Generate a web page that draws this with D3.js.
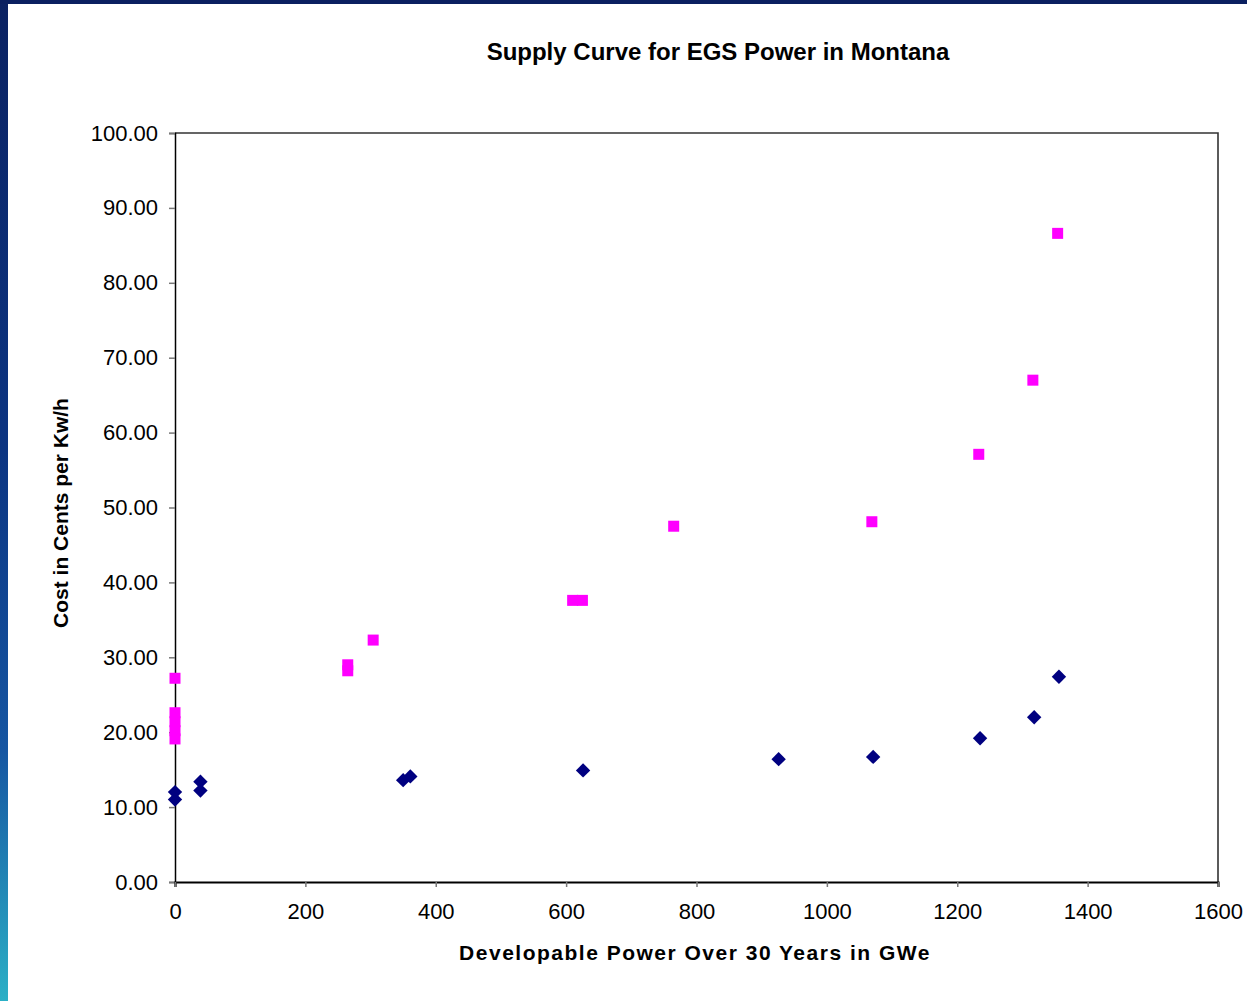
<!DOCTYPE html>
<html>
<head>
<meta charset="utf-8">
<script src="https://cdn.jsdelivr.net/npm/d3@7"></script>
<style>
  html, body { margin: 0; padding: 0; background: #fff; }
  svg { display: block; }
</style>
</head>
<body>
<svg id="chart" width="1247" height="1001"></svg>
<script>
// Supply curve data: developable power (GWe) vs. cost (cents per kWh)
const highCostPower = [0, 0, 0, 0, 0, 265, 265, 304, 610, 625, 765, 1069, 1233, 1316, 1354];
const highCostCents = [27.2, 22.6, 21.4, 20.2, 19.1, 29.0, 28.2, 32.3, 37.6, 37.6, 47.5, 48.1, 57.1, 67.0, 86.6];

const lowCostPower = [0, 0, 39, 39, 350, 361, 626, 926, 1071, 1235, 1318, 1356];
const lowCostCents = [12.0, 11.0, 13.4, 12.2, 13.6, 14.1, 14.9, 16.4, 16.7, 19.2, 22.0, 27.4];

const xTicks = [0, 200, 400, 600, 800, 1000, 1200, 1400, 1600];
const yTicks = [0, 10, 20, 30, 40, 50, 60, 70, 80, 90, 100];

const titleText = "Supply Curve for EGS Power in Montana";
const xLabel = "Developable Power Over 30 Years in GWe";
const yLabel = "Cost in Cents per Kw/h";

const svg = d3.select("#chart");
const W = 1247, H = 1001;
const plot = { left: 175, right: 1218, top: 133, bottom: 882 };

// Slide frame: gradient strip on the left, dark band along the top
const defs = svg.append("defs");
const grad = defs.append("linearGradient")
  .attr("id", "frameGrad").attr("x1", 0).attr("y1", 0).attr("x2", 0).attr("y2", 1);
grad.append("stop").attr("offset", "0%").attr("stop-color", "#0b2262");
grad.append("stop").attr("offset", "45%").attr("stop-color", "#0c3582");
grad.append("stop").attr("offset", "75%").attr("stop-color", "#1656a2");
grad.append("stop").attr("offset", "100%").attr("stop-color", "#2bb0c6");

svg.append("rect").attr("x", 0).attr("y", 0).attr("width", W).attr("height", H).attr("fill", "#fff");
svg.append("rect").attr("x", 0).attr("y", 0).attr("width", 8).attr("height", H).attr("fill", "url(#frameGrad)");
svg.append("rect").attr("x", 0).attr("y", 0).attr("width", W).attr("height", 4).attr("fill", "#0a2060");

const x = d3.scaleLinear().domain([0, 1600]).range([plot.left, plot.right]);
const y = d3.scaleLinear().domain([0, 100]).range([plot.bottom, plot.top]);

const font = "'Liberation Sans', Arial, sans-serif";

// Plot frame (top and right edges)
svg.append("path")
  .attr("d", `M${plot.left},${plot.top}H${plot.right}V${plot.bottom}`)
  .attr("fill", "none").attr("stroke", "#333").attr("stroke-width", 1.6);

// Y axis
const yAxis = d3.axisLeft(y).tickValues(yTicks).tickFormat(d3.format(".2f")).tickSize(6).tickPadding(11);
const gy = svg.append("g").attr("transform", `translate(${plot.left},0)`).call(yAxis);
gy.select(".domain").attr("stroke", "#000").attr("stroke-width", 1.5);
gy.selectAll(".tick line").attr("stroke", "#777").attr("stroke-width", 1.5);
gy.selectAll(".tick text").attr("font-family", font).attr("font-size", 22).attr("fill", "#000");

// X axis
const xAxis = d3.axisBottom(x).tickValues(xTicks).tickFormat(d3.format("d")).tickSize(5).tickPadding(16);
const gx = svg.append("g").attr("transform", `translate(0,${plot.bottom})`).call(xAxis);
gx.select(".domain").attr("stroke", "#000").attr("stroke-width", 2.2);
gx.selectAll(".tick line").attr("stroke", "#777").attr("stroke-width", 1.5);
gx.selectAll(".tick text").attr("font-family", font).attr("font-size", 22).attr("fill", "#000");

// Series: high-cost case (magenta squares)
const highData = highCostPower.map((p, i) => ({ p, c: highCostCents[i] }));
svg.append("g").selectAll("rect").data(highData).join("rect")
  .attr("x", d => x(d.p) - 5.5).attr("y", d => y(d.c) - 5.5)
  .attr("width", 11).attr("height", 11)
  .attr("fill", "#ff00ff");

// Series: low-cost case (navy diamonds)
const lowData = lowCostPower.map((p, i) => ({ p, c: lowCostCents[i] }));
svg.append("g").selectAll("path").data(lowData).join("path")
  .attr("d", d => {
    const cx = x(d.p), cy = y(d.c), r = 7.2;
    return `M${cx},${cy - r}L${cx + r},${cy}L${cx},${cy + r}L${cx - r},${cy}Z`;
  })
  .attr("fill", "#000080");

// Titles
svg.append("text").attr("x", 718).attr("y", 60).attr("text-anchor", "middle")
  .attr("font-family", font).attr("font-size", 24).attr("font-weight", "bold")
  .text(titleText);

svg.append("text").attr("x", 695).attr("y", 960).attr("text-anchor", "middle")
  .attr("font-family", font).attr("font-size", 21).attr("font-weight", "bold")
  .attr("letter-spacing", 1.5)
  .text(xLabel);

svg.append("text").attr("transform", "translate(68,513) rotate(-90)").attr("text-anchor", "middle")
  .attr("font-family", font).attr("font-size", 21).attr("font-weight", "bold")
  .text(yLabel);
</script>
</body>
</html>
